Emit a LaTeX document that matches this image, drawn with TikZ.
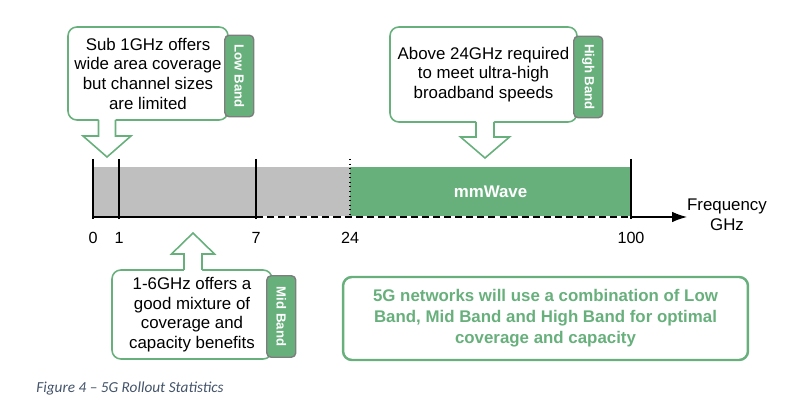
\documentclass[tikz,border=0pt]{standalone}
\usepackage{fontspec}
\setmainfont{Liberation Sans}
\newfontfamily\captionfont{Carlito}
\usetikzlibrary{arrows.meta}
\definecolor{bandgreen}{RGB}{103,176,124}
\definecolor{bandgray}{RGB}{191,191,191}
\definecolor{taggray}{RGB}{125,125,125}
\definecolor{captionblue}{RGB}{68,84,106}
\tikzset{
    axisline/.style={black, line width=0.7pt},
    callout/.style={draw=bandgreen, line width=0.9pt, fill=white, rounded corners=5pt,
        align=center, inner sep=0pt, font=\fontsize{9.6}{11.2}\selectfont},
    calloutedge/.style={draw=bandgreen, line width=0.9pt},
    bandtag/.style={draw=taggray, line width=0.8pt, fill=bandgreen, rounded corners=2.5pt,
        rotate=-90, text=white, inner sep=0pt, minimum width=1.63cm, minimum height=0.58cm,
        font=\bfseries\fontsize{7.5}{9}\selectfont},
    ticklabel/.style={font=\fontsize{9.2}{11}\selectfont},
    summary/.style={draw=bandgreen, line width=1.4pt, rounded corners=5pt, align=center,
        inner sep=0pt, text=bandgreen, font=\bfseries\fontsize{9.6}{11.9}\selectfont},
}

\begin{document}
\begin{tikzpicture}[x=0.02cm, y=-0.02cm]
    \useasboundingbox (0,0) rectangle (808,404);

    % frequency axis
    \coordinate (t0) at (93,217);
    \coordinate (t7) at (256,217);
    \coordinate (t24) at (350,217);
    \coordinate (t100) at (631,217);
    \coordinate (axisend) at (687,217);

    \fill[bandgray] (93,167) rectangle (t24);
    \fill[bandgreen] (350,167) rectangle (t100);
    \node[text=white, font=\bfseries\fontsize{9.6}{11}\selectfont] (mmwave) at (490.5,192) {mmWave};

    \draw[axisline] (t0) -- (t7);
    \draw[white, line width=0.8pt] (t7) -- (t100);
    \draw[axisline, dash pattern=on 4pt off 2.3pt] (t7) -- (t100);
    \draw[axisline, -{Latex[length=8.5pt,width=6pt]}] (t100) -- (axisend);
    \foreach \v/\x in {0/93,1/119,7/256,100/631}
        \draw[axisline] (\x,159) -- (\x,219) node[ticklabel] (tick\v) at (\x,238) {\v};
    \draw[black, line width=0.6pt, dotted] (350,159) -- (t24);
    \node[ticklabel] (tick24) at (350,238) {24};
    \node[align=center, font=\fontsize{9.6}{11.3}\selectfont] (freq) at (727,215) {Frequency\\GHz};

    % low band
    \node[callout, minimum width=3.2cm, minimum height=1.86cm] (low) at (148,73.5)
        {Sub 1GHz offers\\wide area coverage\\but channel sizes\\are limited};
    \coordinate (lowtip) at (107,157);
    \fill[white] (lowtip) -- ++(-24,-21) -- ++(15.5,0) -- ++(0,-17.5) -- ++(17,0) -- ++(0,17.5) -- ++(15.5,0) -- cycle;
    \draw[calloutedge] (lowtip) ++(-8.5,-37) -- ++(0,16) -- ++(-15.5,0) -- (lowtip) -- ++(24,-21) -- ++(-15.5,0) -- ++(0,-16);
    \node[bandtag] (lowtag) at ([shift={(10.5,2.5)}]low.east) {Low Band};

    % high band
    \node[callout, minimum width=3.74cm, minimum height=1.9cm] (high) at (483.5,74.5)
        {Above 24GHz required\\to meet ultra-high\\broadband speeds};
    \coordinate (hightip) at (485,158);
    \fill[white] (hightip) -- ++(-24.5,-21) -- ++(15.5,0) -- ++(0,-16.5) -- ++(18,0) -- ++(0,16.5) -- ++(15.5,0) -- cycle;
    \draw[calloutedge] (hightip) ++(-9,-36) -- ++(0,15) -- ++(-15.5,0) -- (hightip) -- ++(24.5,-21) -- ++(-15.5,0) -- ++(0,-15);
    \node[bandtag] (hightag) at ([shift={(10.5,2.5)}]high.east) {High Band};

    % mid band
    \node[callout, minimum width=3.2cm, minimum height=1.78cm] (mid) at (192,314.5)
        {1-6GHz offers a\\good mixture of\\coverage and\\capacity benefits};
    \coordinate (midtip) at (193,233);
    \fill[white] (midtip) -- ++(-21.5,21) -- ++(12.5,0) -- ++(0,17.5) -- ++(18,0) -- ++(0,-17.5) -- ++(12.5,0) -- cycle;
    \draw[calloutedge] (midtip) ++(-9,37) -- ++(0,-16) -- ++(-12.5,0) -- (midtip) -- ++(21.5,21) -- ++(-12.5,0) -- ++(0,16);
    \node[bandtag] (midtag) at ([shift={(8.5,2)}]mid.east) {Mid Band};

    \node[summary, minimum width=8.1cm, minimum height=1.66cm] (combo) at (545.5,318.5)
        {5G networks will use a combination of Low\\Band, Mid Band and High Band for optimal\\coverage and capacity};

    \node[anchor=west, inner sep=0pt, text=captionblue, font=\captionfont\itshape\fontsize{8.7}{10}\selectfont] (figcap) at (36,389)
        {Figure 4 – 5G Rollout Statistics};
\end{tikzpicture}
\end{document}
